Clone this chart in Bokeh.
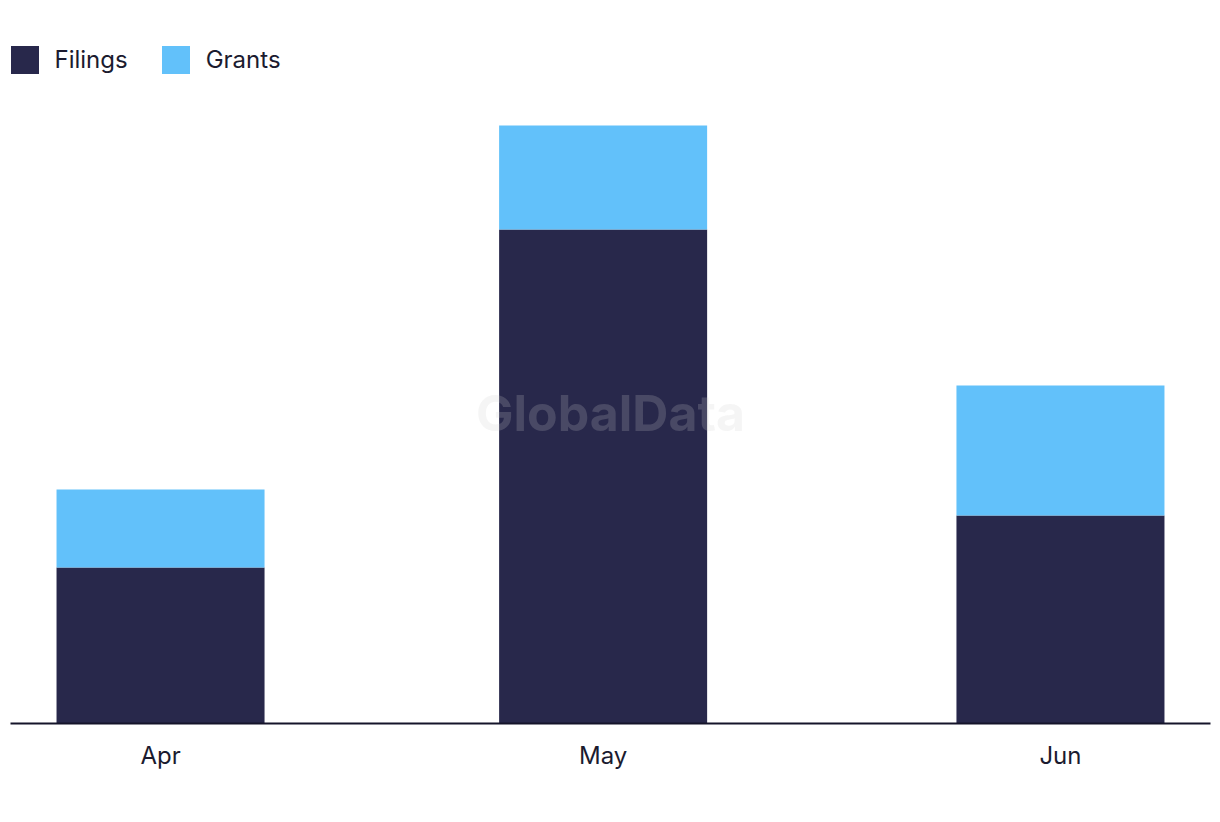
import datetime as dt
from bokeh.plotting import figure
from bokeh.models import ColumnDataSource, Range1d, MonthsTicker, DatetimeTickFormatter, Label, Legend
from bokeh.embed import file_html
from bokeh.resources import INLINE

months = [dt.datetime(2023, 4, 1), dt.datetime(2023, 5, 1), dt.datetime(2023, 6, 1)]
filings = [6, 19, 8]
grants = [3, 4, 5]
series = ["Filings", "Grants"]
colors = ["#28284B", "#62C1FA"]

source = ColumnDataSource(dict(date=months, Filings=filings, Grants=grants))

DAY = 86400000
x_start = dt.datetime(2023, 4, 1) - dt.timedelta(days=10.17)
x_end = dt.datetime(2023, 6, 1) + dt.timedelta(days=10.17)

p = figure(width=1220, height=822, x_axis_type="datetime",
           x_range=Range1d(x_start, x_end), y_range=Range1d(0, 723 / 26.0),
           output_backend="svg", toolbar_location=None,
           min_border_left=10, min_border_right=10, min_border_top=0, min_border_bottom=99)
p.outline_line_color = None
p.background_fill_color = "white"
p.border_fill_color = "white"
p.grid.visible = False
p.yaxis.visible = False

renderers = p.vbar_stack(series, x="date", width=14.1 * DAY, color=colors, source=source,
                         line_color=None)

xa = p.xaxis[0]
xa.ticker = MonthsTicker(months=list(range(12)))
xa.formatter = DatetimeTickFormatter(days="%b", months="%b", years="%b")
xa.axis_line_color = "#15142A"
xa.axis_line_width = 2
xa.major_tick_line_color = None
xa.minor_tick_line_color = None
xa.major_label_text_font = "Inter"
xa.major_label_text_font_size = "24px"
xa.major_label_text_color = "#1B1B2F"
xa.major_label_standoff = 11

wm = Label(x=600, y=311, x_units="screen", y_units="screen", text="GlobalData",
           text_font="Inter", text_font_style="bold", text_font_size="50px",
           text_color="#CECECE", text_alpha=0.2, text_align="center", text_baseline="middle")
p.add_layout(wm)

legend = Legend(items=[(s, [r]) for s, r in zip(series, renderers)],
                location=(-3.5, 723 - 76.5), orientation="horizontal",
                glyph_width=35, glyph_height=35, label_height=35, label_standoff=13,
                spacing=30, padding=0, margin=0,
                label_text_font="Inter", label_text_font_size="24px",
                label_text_color="#1B1B2F", label_text_baseline="middle",
                border_line_color=None, background_fill_alpha=0)
p.add_layout(legend)

open("out.html", "w").write(file_html(p, INLINE))
